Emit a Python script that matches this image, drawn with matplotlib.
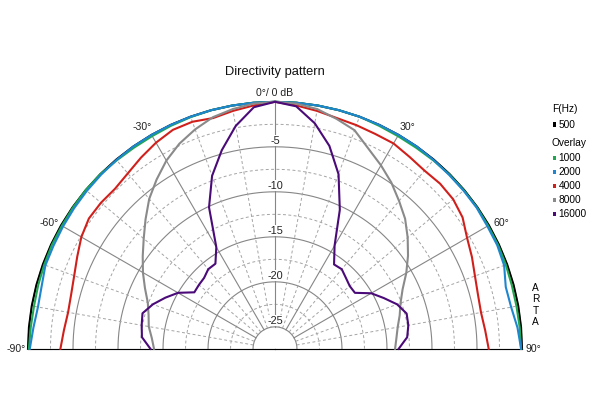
import numpy as np
import matplotlib
matplotlib.use("Agg")
import matplotlib.pyplot as plt
from matplotlib.patches import Rectangle

plt.rcParams['font.family'] = ['Liberation Sans', 'DejaVu Sans']

# ---- data (dB relative to on-axis, angles in degrees) ----
angles = list(range(-90, 95, 5))

f500 = [0.0] * 37

f1000 = [-0.1, -0.2, -0.25, -0.2, -0.15, -0.1, -0.1, -0.05, 0.0, 0.0,
         -0.1, -0.15, -0.15, -0.1, -0.05, 0.0, 0.0, 0.0, 0.0, 0.0,
         0.0, 0.0, 0.0, -0.1, -0.15, -0.15, -0.1, -0.05, -0.05, -0.05,
         -0.1, -0.1, -0.15, -0.2, -0.2, -0.15, -0.1]

f2000 = [-0.2, -0.5, -0.7, -0.6, -0.3, -0.3, -0.25, -0.2, -0.15, -0.1,
         -0.05, 0.0, 0.0, 0.0, 0.0, 0.0, 0.0, 0.0, 0.0, 0.0,
         0.0, 0.0, 0.0, 0.0, 0.0, 0.0, -0.05, -0.1, -0.1, -0.1,
         -0.2, -0.2, -0.35, -0.9, -0.8, -0.4, -0.1]

f4000 = [-3.6, -3.9, -4.1, -4.0, -3.7, -3.2, -2.6, -2.2, -2.2, -2.3,
         -2.0, -1.5, -1.0, -0.6, -0.6, -0.9, -0.6, -0.3, 0.0, -0.3,
         -0.6, -0.9, -1.0, -1.1, -1.1, -1.4, -1.6, -1.5, -1.6, -2.0,
         -2.8, -3.3, -3.8, -4.1, -4.2, -4.0, -3.7]

f8000 = [-14.0, -13.7, -13.2, -12.9, -12.4, -11.5, -10.5, -9.5, -8.4, -7.1,
         -5.7, -4.5, -3.3, -2.3, -1.5, -0.8, -0.4, -0.1, 0.0, -0.1,
         -0.4, -1.0, -1.6, -2.9, -3.9, -4.9, -6.0, -7.0, -8.2, -9.4,
         -10.6, -11.8, -12.6, -13.1, -13.6, -13.9, -14.1]

f16000 = [-13.6, -12.6, -12.4, -12.2, -13.0, -14.0, -15.0, -16.5, -16.4, -16.3,
          -15.9, -15.9, -14.4, -10.1, -7.0, -4.6, -2.3, -0.5, 0.0, -0.4,
          -2.0, -4.1, -6.8, -10.4, -14.2, -16.0, -15.9, -16.3, -16.6, -16.6,
          -15.1, -14.1, -13.0, -12.3, -12.4, -12.7, -13.7]

series_labels = ['500', '1000', '2000', '4000', '8000', '16000']
series_values = [f500, f1000, f2000, f4000, f8000, f16000]
colors = ['#000000', '#1fa650', '#1e86cf', '#d0201c', '#8a8a8a', '#4a0a78']

db_ticks = [-5, -10, -15, -20, -25]
angle_ticks = [-90, -60, -30, 30, 60, 90]
angle_tick_labels = ['-90°', '-60°', '-30°', '30°', '60°', '90°']

RMIN, RMAX = -27.44, 0.0

# ---- figure ----
fig = plt.figure(figsize=(6, 4), dpi=100)
fig.patch.set_facecolor('white')
cx, cy, R = 275.0, 348.8, 247.0
# polar half-wedge is drawn centred inside a square box
ax = fig.add_axes([(cx - R) / 600, (400 - (cy + 0.5 * R)) / 400, 2 * R / 600, 2 * R / 400],
                  projection='polar')
ax.set_aspect('auto')
ax.set_theta_zero_location('N')
ax.set_theta_direction(-1)
ax.set_thetamin(-90)
ax.set_thetamax(90)
ax.set_rlim(RMIN, RMAX)
ax.grid(False)
ax.set_xticks([])
ax.set_yticks([])
for s in ax.spines.values():
    s.set_visible(False)
ax.patch.set_visible(False)

th_dense = np.deg2rad(np.linspace(-90, 90, 361))
grid_solid = '#868686'
grid_dash = '#a4a4a4'

# circles
for r in [-25, -20, -15, -10, -5, 0]:
    ax.plot(th_dense, np.full_like(th_dense, r), color=grid_solid, lw=0.8, zorder=1,
            clip_on=False)
for r in [-22.5, -17.5, -12.5, -7.5, -2.5]:
    ax.plot(th_dense, np.full_like(th_dense, r), color=grid_dash, lw=0.7,
            ls=(0, (3, 2.5)), zorder=1)
# radials
for a in range(-90, 91, 10):
    t = np.deg2rad(a)
    if a % 30 == 0:
        r0 = RMIN if abs(a) == 90 else -25
        ax.plot([t, t], [r0, 0], color=grid_solid, lw=0.8, zorder=1, clip_on=False)
    else:
        ax.plot([t, t], [-25, 0], color=grid_dash, lw=0.7, ls=(0, (3, 2.5)), zorder=1)

# curves
th = np.deg2rad(angles)
for vals, c in zip(series_values, colors):
    ax.plot(th, vals, color=c, lw=1.5, zorder=3, clip_on=False,
            solid_joinstyle='round')

# dB labels
for v in db_ticks:
    ax.text(0, v + 0.7, str(v), ha='center', va='center', fontsize=7.8,
            color='#222222', zorder=4,
            bbox=dict(facecolor='white', edgecolor='none', pad=0.3))
ax.text(0, 0.95, '0°/ 0 dB', ha='center', va='center', fontsize=7.6,
        color='#222222', zorder=5, clip_on=False,
        bbox=dict(facecolor='white', edgecolor='none', pad=0.3))
for a, lab in zip(angle_ticks, angle_tick_labels):
    off = 0.0 if abs(a) == 90 else np.sign(a) * 0.9
    ax.text(np.deg2rad(a + off), 1.3, lab, ha='center', va='center', fontsize=7.6,
            color='#222222', clip_on=False)

# title
fig.text(275 / 600, 1 - 72 / 400, 'Directivity pattern', ha='center', va='center',
         fontsize=9.3, color='#111111')

# legend
def fy(y):
    return 1 - y / 400

fig.text(552 / 600, fy(109), 'F(Hz)', ha='left', va='center', fontsize=7.3)
fig.text(552 / 600, fy(143), 'Overlay', ha='left', va='center', fontsize=7.3)
leg_y = [124.5, 158, 172, 186, 200, 214]
for lab, c, y in zip(series_labels, colors, leg_y):
    fig.add_artist(Rectangle((552.5 / 600, fy(y) - 2.2 / 400), 3.5 / 600, 4.5 / 400,
                             transform=fig.transFigure, facecolor=c, edgecolor='none'))
    fig.text(558.5 / 600, fy(y), lab, ha='left', va='center', fontsize=7.3)

fig.text(535.5 / 600, fy(305), '\n'.join('ARTA'), ha='center', va='center',
         fontsize=7.3, linespacing=1.2)

fig.savefig('out.png', dpi=100)
